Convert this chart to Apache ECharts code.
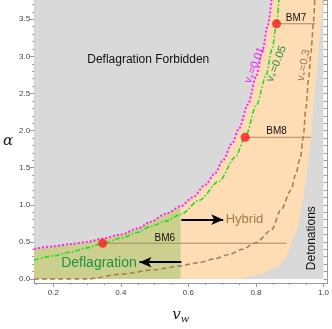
<!DOCTYPE html>
<html>
<head>
<meta charset="utf-8">
<script src="https://cdn.jsdelivr.net/npm/echarts@6/dist/echarts.min.js"></script>
<style>
  html, body { margin: 0; padding: 0; background: #fff; }
  #chart { width: 332px; height: 329px; }
</style>
</head>
<body>
<div id="chart"></div>
<script>
// curves: [v_w, alpha]
const vPlus001 = [[0.143,0.405],[0.20,0.44],[0.25,0.47],[0.302,0.50],[0.346,0.545],[0.40,0.60],[0.45,0.68],[0.487,0.77],[0.533,0.88],[0.577,0.98],[0.613,1.10],[0.65,1.27],[0.68,1.43],[0.702,1.60],[0.73,1.83],[0.75,2.03],[0.776,2.35],[0.80,2.72],[0.82,3.1],[0.835,3.42],[0.846,3.76]];
const vPlus005 = [[0.143,0.256],[0.20,0.31],[0.25,0.36],[0.30,0.42],[0.346,0.482],[0.40,0.55],[0.45,0.63],[0.487,0.705],[0.533,0.78],[0.577,0.87],[0.632,1.06],[0.691,1.32],[0.739,1.645],[0.768,1.91],[0.802,2.35],[0.829,2.73],[0.848,3.1],[0.861,3.44],[0.868,3.76]];
const vPlus03 = [[0.143,0],[0.302,0],[0.40,0.065],[0.50,0.125],[0.574,0.175],[0.63,0.22],[0.68,0.275],[0.72,0.33],[0.76,0.40],[0.80,0.49],[0.846,0.66],[0.875,0.94],[0.904,1.2],[0.917,1.4],[0.932,1.645],[0.94,1.91],[0.948,2.3],[0.956,2.7],[0.963,3.05],[0.970,3.44],[0.974,3.76]];
// right edge of the hybrid region, bottom to top
const hybridEdge = [[0.75,0],[0.81,0.06],[0.866,0.17],[0.89,0.30],[0.904,0.47],[0.918,0.62],[0.928,0.77],[0.937,0.98],[0.943,1.2],[0.951,1.45],[0.957,1.645],[0.963,1.91],[0.970,2.35],[0.979,2.73],[0.988,3.2],[0.997,3.76]];
const csound = 0.577;
const vRange = [0.143, 1.0];
const alphaRange = [0, 3.76];

const bmNames = ['BM6', 'BM8', 'BM7'];
const bmPoints = [[0.346,0.482],[0.768,1.91],[0.861,3.44]];
const bmLineEnd = [0.89, 0.963, 0.976];

const xTicks = [0.2, 0.4, 0.6, 0.8, 1.0];
const yTicks = [0, 0.5, 1.0, 1.5, 2.0, 2.5, 3.0, 3.5];
const xMinor = [0.15,0.25,0.3,0.35,0.45,0.5,0.55,0.65,0.7,0.75,0.85,0.9,0.95];
const yMinor = [0.1,0.2,0.3,0.4,0.6,0.7,0.8,0.9,1.1,1.2,1.3,1.4,1.6,1.7,1.8,1.9,2.1,2.2,2.3,2.4,2.6,2.7,2.8,2.9,3.1,3.2,3.3,3.4,3.6,3.7];

const FONT = 'Liberation Sans, Arial, sans-serif';

// build the filled regions from the curves
const lowPart = vPlus001.filter(p => p[0] <= csound);
const highPart = vPlus001.filter(p => p[0] >= csound);
const grayPoly = [[vRange[0],alphaRange[0]],[vRange[1],alphaRange[0]],[vRange[1],alphaRange[1]],[vRange[0],alphaRange[1]]];
const olivePoly = [[vRange[0],0]].concat(lowPart, [[csound,0]]);
const orangePoly = [[csound,0]].concat(highPart, hybridEdge.slice().reverse());
const regions = [
  { pts: grayPoly, fill: '#d9d9d9' },
  { pts: olivePoly, fill: '#ccd08e' },
  { pts: orangePoly, fill: '#fedcb4' }
];

// text labels placed in data coordinates
const sub = (a, b, c) => '{a|' + a + '}{b|' + b + '}{a|' + c + '}';
const notes = [
  { at: [0.481, 2.96], text: 'Deflagration Forbidden', color: '#111', size: 12 },
  { at: [0.766, 0.80], text: 'Hybrid', color: '#a8784a', size: 13 },
  { at: [0.335, 0.22], text: 'Deflagration', color: '#1f9440', size: 14 },
  { at: [0.966, 0.55], text: 'Detonations', color: '#111', size: 12, rot: 90 },
  { at: [0.919, 3.52], text: 'BM7', color: '#111', size: 10 },
  { at: [0.861, 1.99], text: 'BM8', color: '#111', size: 10 },
  { at: [0.53, 0.546], text: 'BM6', color: '#111', size: 10 },
  { at: [0.796, 2.88], text: sub('v', '+', '=0.01'), color: '#ee22ee', size: 11, rot: 68 },
  { at: [0.861, 2.90], text: sub('v', '+', '=0.05'), color: '#1f9440', size: 11, rot: 69 },
  { at: [0.941, 2.88], text: sub('v', '+', '=0.3'), color: '#a07850', size: 11, rot: 79 }
];

const chart = echarts.init(document.getElementById('chart'), null, { renderer: 'canvas' });

const axisGray = '#999';
const frameX = (pos, show) => ({
  type: 'value', min: 0.143, max: 1.012, position: pos,
  axisLine: { show: show, onZero: false, lineStyle: { color: axisGray } },
  splitLine: { show: false }
});
const frameY = (pos, show) => ({
  type: 'value', min: -0.054, max: 3.76, position: pos,
  axisLine: { show: show, onZero: false, lineStyle: { color: axisGray } },
  splitLine: { show: false }
});

const option = {
  animation: false,
  grid: { left: 32, right: 2, top: 0, bottom: 31.5, containLabel: false },
  xAxis: [
    Object.assign(frameX('bottom', true), {
      name: '{i|v}{s|w}', nameLocation: 'middle', nameGap: 23,
      nameTextStyle: { rich: { i: { fontFamily: 'DejaVu Serif', fontStyle: 'italic', fontSize: 15, color: '#222' },
                               s: { fontFamily: 'DejaVu Serif', fontStyle: 'italic', fontSize: 10, color: '#222', padding: [8, 0, 0, 0] } } },
      axisTick: { show: true, length: 4, customValues: xTicks, lineStyle: { color: axisGray } },
      axisLabel: { customValues: xTicks, fontSize: 8, color: '#444', fontFamily: FONT, margin: 6,
                   formatter: v => v.toFixed(1) }
    }),
    Object.assign(frameX('bottom', false), {
      axisTick: { show: true, length: 2, customValues: xMinor, lineStyle: { color: axisGray } },
      axisLabel: { show: false }
    }),
    Object.assign(frameX('top', true), {
      axisTick: { show: true, inside: true, length: 4, customValues: xTicks.concat(xMinor), lineStyle: { color: axisGray } },
      axisLabel: { show: false }
    })
  ],
  yAxis: [
    Object.assign(frameY('left', true), {
      name: 'α', nameLocation: 'middle', nameGap: 16, nameRotate: 0,
      nameTextStyle: { fontFamily: 'DejaVu Serif', fontStyle: 'italic', fontSize: 15, color: '#222' },
      axisTick: { show: true, length: 4, customValues: yTicks, lineStyle: { color: axisGray } },
      axisLabel: { customValues: yTicks, fontSize: 8, color: '#444', fontFamily: FONT, margin: 4,
                   formatter: v => v.toFixed(1) }
    }),
    Object.assign(frameY('left', false), {
      axisTick: { show: true, length: 2, customValues: yMinor, lineStyle: { color: axisGray } },
      axisLabel: { show: false }
    }),
    Object.assign(frameY('right', true), {
      axisTick: { show: true, inside: true, length: 4, customValues: yTicks.concat(yMinor), lineStyle: { color: axisGray } },
      axisLabel: { show: false }
    })
  ],
  series: [
    {
      type: 'custom', name: 'regions', silent: true, clip: true, z: 1,
      data: regions.map((r, i) => i),
      renderItem: (params, api) => {
        const r = regions[params.dataIndex];
        return { type: 'polygon', shape: { points: r.pts.map(p => api.coord(p)) }, style: { fill: r.fill } };
      }
    },
    {
      type: 'line', name: 'v+=0.3', data: vPlus03, showSymbol: false, smooth: 0.3, smoothMonotone: 'x', z: 3,
      lineStyle: { color: '#a57a4e', width: 1.5, type: [5, 3] }
    },
    ...bmPoints.map((p, i) => ({
      type: 'line', name: bmNames[i] + ' line', data: [p, [bmLineEnd[i], p[1]]], showSymbol: false, z: 3,
      lineStyle: { color: '#a88a5c', width: 1 }
    })),
    {
      type: 'line', name: 'v+=0.05', data: vPlus005, showSymbol: false, smooth: 0.3, smoothMonotone: 'x', z: 4,
      lineStyle: { color: '#22dd22', width: 1.6, type: [5, 2, 1.5, 2] }
    },
    {
      type: 'line', name: 'v+=0.01', data: vPlus001, showSymbol: false, smooth: 0.3, smoothMonotone: 'x', z: 4,
      lineStyle: { color: '#ff22ff', width: 2, type: [2, 2] }
    },
    {
      type: 'scatter', name: 'benchmarks', data: bmPoints, symbolSize: 9, z: 6,
      itemStyle: { color: '#ff1a1a' },
      markLine: {
        silent: true, symbol: ['none', 'arrow'], symbolSize: [8, 12],
        label: { show: false },
        lineStyle: { color: '#000', width: 2, type: 'solid' },
        data: [
          [{ coord: [0.579, 0.80] }, { coord: [0.703, 0.80] }],
          [{ coord: [0.579, 0.226] }, { coord: [0.455, 0.226] }]
        ]
      }
    },
    {
      type: 'custom', name: 'notes', silent: true, clip: false, z: 7,
      data: notes.map((n, i) => i),
      renderItem: (params, api) => {
        const n = notes[params.dataIndex];
        const pt = api.coord(n.at);
        return {
          type: 'text', x: pt[0], y: pt[1], rotation: (n.rot || 0) * Math.PI / 180,
          style: {
            text: n.text, fill: n.color, font: n.size + 'px ' + FONT,
            align: 'center', verticalAlign: 'middle',
            rich: {
              a: { fontSize: n.size, fontFamily: FONT, fill: n.color },
              b: { fontSize: n.size * 0.7, fontFamily: FONT, fill: n.color, padding: [5, 0, 0, 0] }
            }
          }
        };
      }
    }
  ]
};

chart.setOption(option);
</script>
</body>
</html>
